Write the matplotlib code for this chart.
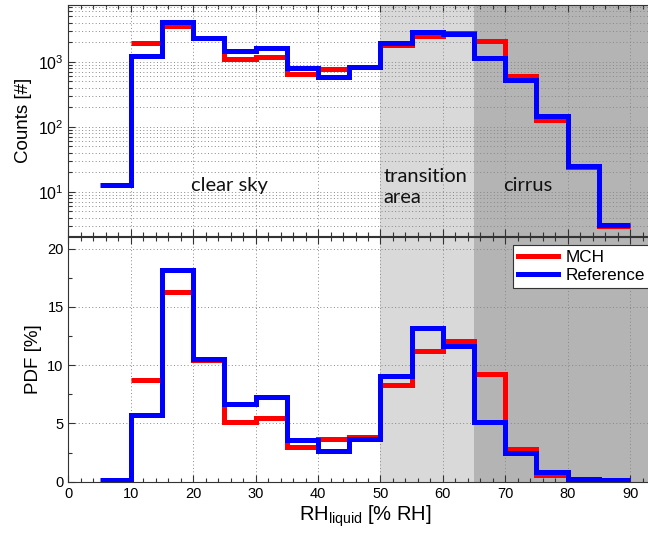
"""
Histogramas de RH sobre liquido: MCH vs Reference
Panel superior: conteos (escala log). Panel inferior: PDF en %.
"""

import numpy as np
import matplotlib.pyplot as plt
from matplotlib.ticker import MultipleLocator, LogLocator, LogFormatterMathtext, NullFormatter

plt.rcParams["font.family"] = ["Liberation Sans", "DejaVu Sans"]
plt.rcParams["mathtext.fontset"] = "custom"
plt.rcParams["mathtext.rm"] = "Liberation Sans"
plt.rcParams["mathtext.it"] = "Liberation Sans:italic"

# bordes de bin (% RH)
edges_ref = [5, 10, 15, 20, 25, 30, 35, 40, 45, 50, 55, 60, 65, 70, 75, 80, 85, 90]
edges_mch = [10, 15, 20, 25, 30, 35, 40, 45, 50, 55, 60, 65, 70, 75, 80, 85, 90]

# conteos por bin
counts_ref = [13, 1245, 4065, 2340, 1455, 1640, 808, 578, 826,
              1950, 2890, 2690, 1150, 534, 146, 25, 3.1]
counts_mch = [1960, 3530, 2300, 1112, 1195, 660, 788, 840,
              1800, 2540, 2795, 2075, 616, 129, 24, 3.0]

# PDF por bin [%]
pdf_ref = [0.15, 5.71, 18.14, 10.57, 6.66, 7.29, 3.57, 2.66, 3.66,
           9.09, 13.2, 11.63, 5.09, 2.43, 0.8, 0.2, 0.14]
pdf_mch = [8.77, 16.29, 10.43, 5.09, 5.43, 2.94, 3.63, 3.8,
           8.29, 11.23, 12.06, 9.23, 2.8, 0.57, 0.14, 0.1]

# zonas: transicion y cirrus
ZONA_TRANS = (50, 65)
ZONA_CIRRUS = (65, 95)
GRIS_CLARO = "#d9d9d9"
GRIS_OSCURO = "#b4b4b4"

XMAX = 95
LW = 3.6
FS_TICK = 10.5
FS_LABEL = 13.5

fig = plt.figure(figsize=(6.48, 5.35), dpi=100)
ax1 = fig.add_axes([0.1057, 0.5589, 0.9148, 0.4318])
ax2 = fig.add_axes([0.1057, 0.0996, 0.9148, 0.4574])


def estilo(ax):
    ax.axvspan(*ZONA_TRANS, color=GRIS_CLARO, lw=0, zorder=0)
    ax.axvspan(*ZONA_CIRRUS, color=GRIS_OSCURO, lw=0, zorder=0)
    ax.set_xlim(0, XMAX)
    ax.xaxis.set_major_locator(MultipleLocator(10))
    ax.xaxis.set_minor_locator(MultipleLocator(2))
    ax.tick_params(which="both", direction="in", top=True, right=True,
                   labelsize=FS_TICK, width=0.8, color="#333333")
    ax.tick_params(which="major", length=5)
    ax.tick_params(which="minor", length=3)
    ax.grid(True, which="major", ls=(0, (1, 2.5)), color="#888888", lw=0.7)
    for s in ax.spines.values():
        s.set_color("#333333")
        s.set_linewidth(0.8)


# ── Panel superior: conteos ───────────────────────────────────────────────────
estilo(ax1)
ax1.stairs(counts_mch, edges_mch, baseline=None, color="#ff0000", lw=LW, zorder=3)
ax1.stairs(counts_ref, edges_ref, baseline=None, color="#0000ff", lw=LW, zorder=4)
ax1.set_yscale("log")
ax1.set_ylim(2.1, 7500)
ax1.yaxis.set_major_locator(LogLocator(base=10, numticks=10))
ax1.yaxis.set_major_formatter(LogFormatterMathtext())
ax1.yaxis.set_minor_locator(LogLocator(base=10, subs=np.arange(2, 10), numticks=10))
ax1.yaxis.set_minor_formatter(NullFormatter())
ax1.grid(True, which="minor", axis="y", ls=(0, (1, 2.5)), color="#888888", lw=0.7)
ax1.tick_params(labelbottom=False)
ax1.tick_params(axis="y", which="major", labelsize=11.5)
ax1.set_ylabel("Counts [#]", fontsize=FS_LABEL)

fnt = dict(family=["Lato", "DejaVu Sans"], fontsize=14.5, color="#111111")
ax1.text(25.8, 12.6, "clear sky", ha="center", va="center", **fnt)
ax1.text(50.5, 12.0, "transition\narea", ha="left", va="center",
         linespacing=1.3, **fnt)
ax1.text(69.6, 12.6, "cirrus", ha="left", va="center", **fnt)

# ── Panel inferior: PDF ───────────────────────────────────────────────────────
estilo(ax2)
ax2.stairs(pdf_mch, edges_mch, baseline=None, color="#ff0000", lw=LW,
           zorder=3, label="MCH")
ax2.stairs(pdf_ref, edges_ref, baseline=None, color="#0000ff", lw=LW,
           zorder=4, label="Reference")
ax2.set_ylim(0, 21)
ax2.yaxis.set_major_locator(MultipleLocator(5))
ax2.yaxis.set_minor_locator(MultipleLocator(2.5))
ax2.set_ylabel("PDF [%]", fontsize=FS_LABEL)
ax2.set_xlabel(r"RH$_{\mathrm{liquid}}$ [% RH]", fontsize=FS_LABEL + 1, labelpad=2)

leg = ax2.legend(loc="upper left", bbox_to_anchor=(0.750, 0.9685),
                 fontsize=12.3, frameon=True, fancybox=False, borderaxespad=0,
                 handlelength=2.3, handletextpad=0.45, borderpad=0.3,
                 labelspacing=0.2)
leg.get_frame().set_edgecolor("#333333")
leg.get_frame().set_linewidth(0.8)
leg.get_frame().set_alpha(1)
leg.set_zorder(10)

fig.savefig("out.png", dpi=100)
